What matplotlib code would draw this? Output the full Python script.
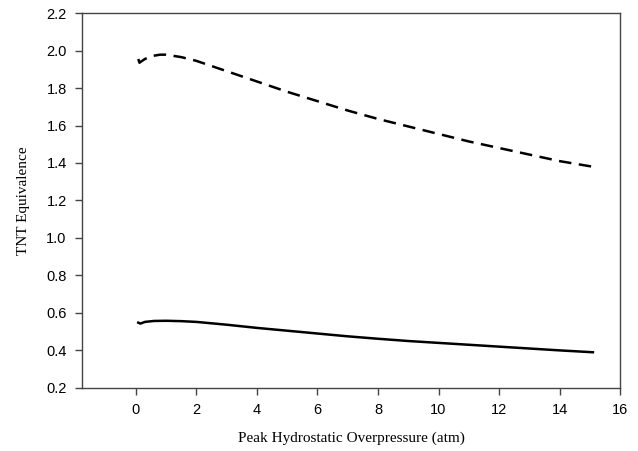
import numpy as np
import matplotlib.pyplot as plt

# values
x_upper = [0.08, 0.12, 0.16, 0.3, 0.5, 0.8, 1.0, 1.5, 2, 3, 4, 5, 6, 7, 8, 9, 10, 11, 12, 13, 14, 15.1]
y_upper = [1.955, 1.935, 1.94, 1.955, 1.97, 1.978, 1.978, 1.965, 1.945, 1.89, 1.835, 1.78, 1.73, 1.68, 1.635, 1.595, 1.555, 1.515, 1.48, 1.445, 1.41, 1.38]

x_lower = [0.08, 0.15, 0.3, 0.6, 1.0, 1.5, 2, 3, 4, 5, 6, 7, 8, 9, 10, 11, 12, 13, 14, 15.1]
y_lower = [0.548, 0.543, 0.552, 0.557, 0.558, 0.556, 0.552, 0.537, 0.52, 0.505, 0.49, 0.475, 0.462, 0.45, 0.44, 0.43, 0.42, 0.41, 0.40, 0.39]

xticks = [0, 2, 4, 6, 8, 10, 12, 14, 16]
yticks = [0.2, 0.4, 0.6, 0.8, 1.0, 1.2, 1.4, 1.6, 1.8, 2.0, 2.2]

fig = plt.figure(figsize=(6.38, 4.51), dpi=100)
ax = fig.add_axes([0.1285, 0.14, 0.8435, 0.831])

ax.plot(x_upper, y_upper, color='black', lw=1.8, linestyle=(0, (5, 3)))
ax.plot(x_lower, y_lower, color='black', lw=1.8)

ax.set_xlim(-1.78, 16)
ax.set_ylim(0.2, 2.2)
ax.set_xticks(xticks)
ax.set_yticks(yticks)
ax.set_yticklabels([f"{v:.1f}" for v in yticks])

for s in ax.spines.values():
    s.set_color('#444444')
    s.set_linewidth(1.0)
ax.tick_params(direction='out', length=5, width=1, color='#444444', pad=6,
               labelsize=10.5)
for lab in ax.get_xticklabels() + ax.get_yticklabels():
    lab.set_family('Liberation Sans')

ax.set_xlabel("Peak Hydrostatic Overpressure (atm)", family='Liberation Serif',
              fontsize=11, labelpad=10)
ax.set_ylabel("TNT Equivalence", family='Liberation Serif', fontsize=11,
              labelpad=12)

plt.savefig("out.png", dpi=100)
